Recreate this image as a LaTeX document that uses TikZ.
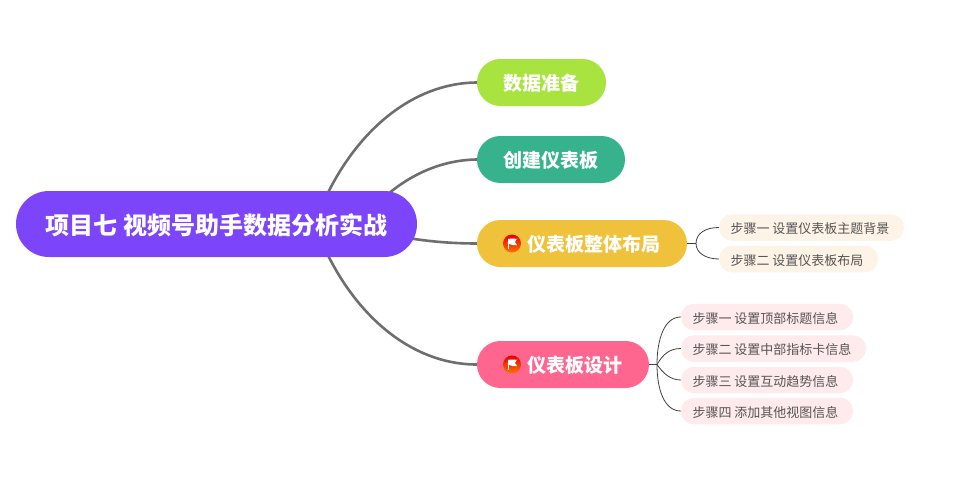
\documentclass[tikz,border=0pt]{standalone}
\usepackage{fontspec}
\usepackage{xcolor}
\newfontfamily\cjk{Noto Sans CJK SC}
\usetikzlibrary{backgrounds}
\definecolor{rootcol}{HTML}{7C45FA}
\definecolor{limecol}{HTML}{A9E33F}
\definecolor{tealcol}{HTML}{36B38C}
\definecolor{goldcol}{HTML}{F0C23C}
\definecolor{rosecol}{HTML}{FF668F}
\definecolor{creamcol}{HTML}{FDF3E6}
\definecolor{blushcol}{HTML}{FFEAEC}
\definecolor{trunkcol}{HTML}{6E6E6E}
\definecolor{leaftext}{HTML}{555555}
\tikzset{%
  rootbox/.style={fill=rootcol, text=white, font=\cjk\fontsize{24}{26}\selectfont\bfseries, rounded corners=32.9pt, minimum width=401pt, minimum height=66pt, inner sep=0pt, text height=21.5pt, text depth=1.5pt},
  branchbox/.style={text=white, font=\cjk\fontsize{19}{22}\selectfont\bfseries, rounded corners=23.4pt, minimum height=47pt, inner sep=0pt, text height=16.5pt, text depth=1pt},
  leafbox/.style={text=leaftext, font=\cjk\fontsize{13}{15}\selectfont, rounded corners=13pt, minimum height=26.5pt, inner sep=0pt, text height=13pt, text depth=1pt},
  trunk/.style={draw=trunkcol, line width=2.6pt},
  twig/.style={draw=black!75, line width=.8pt},
  flagdot/.style={circle, minimum size=18pt, inner sep=0pt, top color=red!90!black, bottom color=orange!90!red}
}
\newcommand{\flagicon}[2]{%
\node[flagdot] (#1) at (#2) {};
\fill[white] ([shift={(-4,-4.5)}]#1.center) .. controls +(3,-1.5) and +(4,1.5) .. +(9,-.5) -- +(7,3) -- +(9,6) .. controls +(-4,1.5) and +(-5,-1.5) .. +(0,4) -- cycle;
\fill[white] ([shift={(-4,-4.5)}]#1.center) rectangle +(1.2,10);
}
\begin{document}
\begin{tikzpicture}[x=1pt,y=-1pt]
\useasboundingbox (0,0) rectangle (953,479);
\node[rootbox] (root) at (216.5,224) {项目七 视频号助手数据分析实战};
\node[branchbox, fill=limecol, minimum width=129pt] (data) at (541.5,82.5) {数据准备};
\node[branchbox, fill=tealcol, minimum width=148pt] (create) at (551,159.5) {创建仪表板};
\node[branchbox, fill=goldcol, minimum width=210pt] (layout) at (582,243.5) {\hspace*{24pt}仪表板整体布局};
\node[branchbox, fill=rosecol, minimum width=172pt] (design) at (563,364.5) {\hspace*{24pt}仪表板设计};
\flagicon{flagA}{512,243.5}
\flagicon{flagB}{512,364.5}
\node[leafbox, fill=creamcol, minimum width=185pt] (stepA) at (811.5,227.5) {步骤一 设置仪表板主题背景\hspace*{3pt}};
\node[leafbox, fill=creamcol, minimum width=159pt] (stepB) at (798.5,259) {步骤二 设置仪表板布局\hspace*{3pt}};
\node[leafbox, fill=blushcol, minimum width=172pt] (partA) at (767,317) {步骤一 设置顶部标题信息\hspace*{3pt}};
\node[leafbox, fill=blushcol, minimum width=185pt] (partB) at (773.5,348.5) {步骤二 设置中部指标卡信息\hspace*{3pt}};
\node[leafbox, fill=blushcol, minimum width=172pt] (partC) at (767,380) {步骤三 设置互动趋势信息\hspace*{3pt}};
\node[leafbox, fill=blushcol, minimum width=172pt] (partD) at (767,411) {步骤四 添加其他视图信息\hspace*{3pt}};
\coordinate (hubA) at (318,215);
\coordinate (hubB) at (376,205);
\coordinate (hubC) at (380,232);
\coordinate (hubD) at (318,233);
\coordinate (forkA) at (696,243.5);
\coordinate (forkB) at (657,364.5);
\begin{scope}[on background layer]
\draw[trunk] (hubA) .. controls (350,135) and (410,83) .. (data.west);
\draw[trunk] (hubB) .. controls (405,176) and (440,160) .. (create.west);
\draw[trunk] (hubC) .. controls (410,240) and (445,243.5) .. (layout.west);
\draw[trunk] (hubD) .. controls (350,313) and (410,364.5) .. (design.west);
\end{scope}
\draw[twig] (layout.east) -- (forkA);
\draw[twig] (forkA) .. controls (696,233) and (706,227.5) .. (stepA.west);
\draw[twig] (forkA) .. controls (696,253) and (706,259) .. (stepB.west);
\draw[twig] (design.east) -- (forkB);
\draw[twig] (forkB) .. controls (657,340) and (664,317) .. (partA.west);
\draw[twig] (forkB) .. controls (663,354) and (670,348.5) .. (partB.west);
\draw[twig] (forkB) .. controls (663,373) and (670,380) .. (partC.west);
\draw[twig] (forkB) .. controls (657,389) and (664,411) .. (partD.west);
\end{tikzpicture}
\end{document}
